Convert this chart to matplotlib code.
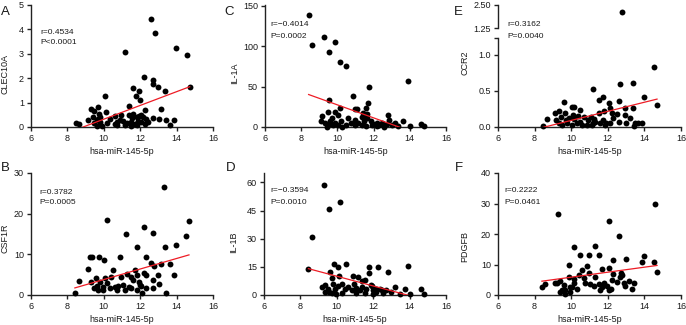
import numpy as np
import matplotlib
matplotlib.use("Agg")
import matplotlib.pyplot as plt

plt.rcParams['font.family'] = ['Liberation Sans', 'DejaVu Sans']

# ---------------- data ----------------
xlabel = "hsa-miR-145-5p"

# Panel A: CLEC10A
a_x = [8.45, 8.63, 12.62, 12.84, 11.19, 13.99, 14.57, 14.72, 12.22, 12.71, 12.71, 12.98, 13.39, 11.58,
       11.94, 11.76, 11.98, 10.06, 11.39, 13.17, 12.29, 12.05, 9.66, 9.27, 9.47, 10.11, 9.80, 9.13, 9.60,
       9.69, 10.33, 10.88, 11.39, 11.55, 11.80, 12.34, 12.71, 13.04, 13.44, 13.88, 13.62, 9.46, 9.78,
       10.15, 10.61, 10.74, 11.06, 11.25, 11.52, 11.70, 11.89, 12.07, 12.25, 12.43, 9.60, 9.88, 10.70,
       11.16, 11.52, 11.80, 9.42, 9.75, 10.61, 10.93, 11.60, 11.94, 12.16]
a_y = [0.18, 0.11, 4.41, 3.84, 3.09, 3.24, 2.94, 1.65, 2.04, 1.93, 1.76, 1.63, 1.49, 1.60,
       1.49, 1.27, 1.11, 1.26, 0.86, 0.75, 0.68, 0.49, 0.83, 0.74, 0.66, 0.63, 0.40, 0.29, 0.29,
       0.33, 0.33, 0.29, 0.49, 0.36, 0.42, 0.31, 0.38, 0.31, 0.29, 0.29, 0.08, 0.18, 0.22,
       0.15, 0.12, 0.22, 0.26, 0.15, 0.19, 0.12, 0.26, 0.19, 0.14, 0.22, 0.05, 0.05, 0.08,
       0.08, 0.04, 0.07, 0.40, 0.53, 0.45, 0.49, 0.53, 0.45, 0.41]

# Panel B: CSF1R
b_x = [13.31, 10.15, 14.68, 12.22, 12.71, 11.21, 14.54, 11.81, 13.99, 13.39, 9.22, 9.36, 9.75, 10.02,
       10.88, 12.34, 9.13, 8.63, 8.41, 9.27, 9.56, 9.60, 9.69, 9.78, 9.93, 10.06, 10.15, 10.42, 10.52,
       10.61, 10.79, 10.92, 11.06, 11.25, 11.39, 11.52, 11.61, 11.70, 11.80, 11.94, 12.07, 12.12, 12.22,
       12.34, 12.62, 12.75, 12.71, 12.71, 12.98, 13.04, 13.17, 13.44, 13.62, 13.88, 9.45, 9.97, 10.33,
       10.70, 11.16, 11.52, 11.80, 11.98, 12.34]
b_y = [26.6, 18.4, 18.1, 16.7, 15.2, 14.9, 14.4, 11.9, 12.2, 11.7, 9.3, 9.3, 9.3, 8.5,
       9.3, 9.4, 6.4, 3.4, 0.6, 3.1, 4.1, 2.2, 1.2, 3.2, 2.0, 4.1, 3.0, 4.5, 6.1,
       2.0, 2.2, 4.5, 2.4, 5.1, 2.0, 4.5, 3.6, 6.1, 4.9, 3.2, 2.2, 0.6, 5.3,
       4.9, 7.8, 7.1, 3.6, 1.6, 4.9, 2.7, 7.6, 0.6, 7.6, 4.9, 1.7, 1.2, 1.6,
       1.2, 1.3, 1.6, 1.3, 2.4, 1.6]

# Panel C: IL-1A
c_x = [8.41, 8.62, 9.26, 9.85, 9.55, 10.16, 10.46, 13.88, 11.75, 10.88, 9.55, 10.14, 11.71, 10.98,
       11.11, 11.57, 11.39, 11.66, 12.77, 9.17, 9.50, 9.87, 10.05, 9.10, 9.31, 9.59, 9.68, 9.78, 9.40,
       10.05, 10.20, 10.60, 10.75, 10.46, 10.97, 11.16, 11.34, 11.49, 11.64, 11.86, 11.99, 11.90, 12.17,
       12.30, 12.48, 12.74, 12.87, 13.00, 13.18, 13.37, 13.64, 14.00, 14.60, 14.78, 12.60, 11.60, 10.24,
       9.87, 9.54, 10.97, 12.17, 11.38, 11.58]
c_y = [139, 102, 111, 105, 93, 81, 76, 57, 49, 38, 33, 24, 30, 22,
       22, 24, 17, 16, 15, 14, 18, 19, 15, 8, 5, 7, 11, 2, 0.5,
       2.5, 7, 11, 5, 2, 2.5, 5, 2.5, 8, 11, 7, 4, 2, 5,
       2, 5, 4, 9, 2.5, 5, 1.2, 7.4, 1.6, 3.3, 1.6, 0.4, 1.2, 0.4,
       5.4, 3.7, 8.7, 1.2, 12, 15]

# Panel D: IL-1B
d_x = [9.28, 10.20, 9.58, 8.61, 8.44, 13.93, 12.83, 12.24, 10.48, 9.85, 10.07, 11.76, 11.76, 9.61,
       10.13, 10.90, 11.17, 9.71, 9.80, 11.54, 9.16, 9.34, 9.49, 9.56, 9.89, 10.07, 10.26, 10.44, 10.62,
       10.81, 11.08, 11.27, 11.39, 11.63, 11.87, 12.00, 12.18, 12.37, 12.55, 12.73, 12.97, 13.19, 13.47,
       13.74, 14.02, 14.61, 14.79, 12.00, 11.54, 11.08, 10.26, 9.98, 9.34, 9.71, 10.95, 11.36, 11.91,
       12.18, 12.50]
d_y = [58.5, 49.5, 45.6, 30.9, 13.6, 15.4, 12.0, 14.7, 16.3, 16.3, 14.7, 14.7, 11.5, 12.4,
       10.0, 10.0, 9.7, 9.3, 6.1, 7.9, 4.3, 5.2, 3.4, 1.6, 3.4, 4.7, 6.1, 3.4, 4.3,
       2.9, 3.8, 2.5, 4.3, 3.4, 5.2, 2.5, 1.6, 3.4, 1.1, 2.5, 1.6, 4.3, 0.7,
       3.1, 0.7, 3.4, 0.7, 0.7, 1.1, 1.1, 1.1, 0.7, 1.6, 1.1, 6.1, 7.4, 4.7,
       3.4, 2.9]

# Panel E: CCR2
e_x = [12.78, 14.54, 13.36, 12.68, 11.17, 13.96, 14.69, 11.72, 11.50, 12.59, 9.61, 10.06, 10.17, 10.50,
       9.13, 9.32, 8.66, 8.44, 9.18, 9.45, 9.69, 9.87, 10.09, 10.18, 10.37, 10.50, 10.68, 10.91, 11.09,
       11.18, 11.27, 11.54, 11.72, 11.90, 12.12, 12.23, 12.30, 12.48, 12.63, 12.92, 12.96, 13.00, 13.22,
       13.36, 13.50, 13.65, 13.87, 13.45, 9.32, 9.50, 9.77, 10.04, 10.32, 10.59, 10.86, 11.14, 11.32,
       11.59, 11.86, 12.14, 9.68, 11.77, 12.05]
e_y = [2.14, 0.83, 0.61, 0.59, 0.52, 0.41, 0.30, 0.41, 0.38, 0.36, 0.34, 0.28, 0.27, 0.24,
       0.20, 0.22, 0.11, 0.01, 0.10, 0.14, 0.10, 0.13, 0.17, 0.11, 0.15, 0.07, 0.14, 0.09, 0.14,
       0.05, 0.11, 0.20, 0.10, 0.05, 0.26, 0.19, 0.12, 0.18, 0.07, 0.26, 0.17, 0.06, 0.12,
       0.26, 0.06, 0.06, 0.05, 0.01, 0.06, 0.03, 0.06, 0.03, 0.05, 0.03, 0.03, 0.03, 0.07,
       0.06, 0.03, 0.05, 0.19, 0.22, 0.33]

# Panel F: PDGFB
f_x = [14.60, 9.28, 12.08, 12.59, 11.28, 10.13, 13.96, 10.46, 10.97, 11.50, 13.01, 13.87, 14.54, 12.28,
       9.86, 10.86, 14.69, 12.08, 11.68, 12.72, 8.40, 8.59, 9.13, 9.22, 9.40, 9.59, 9.68, 9.50, 9.86,
       9.95, 10.13, 10.13, 10.41, 10.59, 10.68, 10.77, 10.95, 11.05, 11.23, 11.32, 11.50, 11.59, 11.68,
       11.77, 11.96, 12.05, 12.19, 12.23, 12.27, 12.50, 12.68, 12.78, 12.87, 12.96, 13.14, 13.32, 13.45,
       9.95, 9.68, 9.40, 10.32, 10.04]
f_y = [29.7, 26.6, 24.1, 19.4, 16.1, 15.7, 12.8, 13.0, 13.1, 13.1, 11.9, 10.9, 10.8, 11.5,
       9.7, 9.5, 7.6, 8.7, 8.5, 7.3, 2.7, 3.5, 3.8, 4.0, 4.6, 3.2, 1.5, 1.8, 6.0,
       2.7, 5.4, 3.8, 6.5, 8.2, 5.7, 3.8, 7.1, 3.5, 2.9, 6.0, 3.5, 1.8, 2.7,
       3.8, 2.9, 1.5, 2.1, 4.9, 6.9, 4.3, 6.0, 6.5, 3.8, 2.9, 4.6, 2.1, 4.0,
       1.0, 0.4, 1.0, 2.1, 2.7]

# linear fit parameters (slope, intercept) and statistics
genes = ["CLEC10A", "CSF1R", "IL-1A", "IL-1B", "CCR2", "PDGFB"]
letters = ["A", "B", "C", "D", "E", "F"]
r_text = ["r=0.4534", "r=0.3782", "r=\u22120.4014", "r=\u22120.3594", "r=0.3162", "r=0.2222"]
p_text = ["P<0.0001", "P=0.0005", "P=0.0002", "P=0.0010", "P=0.0040", "P=0.0461"]
fit_slope = [0.282, 1.295, -8.05, -2.59, 0.0628, 0.82]
fit_intercept = [-2.50, -9.15, 107.9, 35.9, -0.537, -2.36]
y_limits = [(0, 5), (0, 30), (0, 151), (0, 65), (0, 1.23), (0, 40)]
y_ticks = [[0, 1, 2, 3, 4, 5], [0, 10, 20, 30], [0, 50, 100, 150], [0, 15, 30, 45, 60],
           [0, 0.5, 1.0], [0, 10, 20, 30, 40]]
e_upper_ticks = [1.25, 2.50]
x_ticks = [6, 8, 10, 12, 14, 16]

xs = [a_x, b_x, c_x, d_x, e_x, f_x]
ys = [a_y, b_y, c_y, d_y, e_y, f_y]

# ---------------- layout (pixels) ----------------
W, H = 686, 325
fig = plt.figure(figsize=(W / 100, H / 100), dpi=100)

def rect(l, t, r, b):
    return [l / W, 1 - b / H, (r - l) / W, (b - t) / H]

def fx(x):
    return x / W

def fy(y):
    return 1 - y / H

# l, t, r, b of each panel axes
boxes = [(31, 5, 213, 127), (31, 173, 213, 295), (265, 5, 446, 127),
         (264, 173, 446, 295), (498, 38, 681, 127), (498, 173, 681, 295)]
letter_pos = [(1, 12), (1, 168), (224, 12), (226, 168), (454, 12), (455, 168)]
ann_pos = [(40, 32, 42), (39, 192, 202), (270, 25, 36), (270, 191, 202), (507, 25, 36), (504, 191, 202)]
ylabel_pos = [(5, 74), (5.5, 238), (234.5, 73), (234, 242), (465, 63), (465, 246)]

FS = 6.5
MS = 18
spine_c = "#222222"
text_c = "#1a1a1a"

def style(ax):
    for s in ["top", "right"]:
        ax.spines[s].set_visible(False)
    for s in ["left", "bottom"]:
        ax.spines[s].set_linewidth(1.0)
        ax.spines[s].set_color(spine_c)
    ax.tick_params(direction="out", length=3, width=1.0, color=spine_c,
                   labelsize=FS, labelcolor=text_c, pad=2)

for i in range(6):
    l, t, r, b = boxes[i]
    ax = fig.add_axes(rect(l, t, r, b))
    style(ax)
    x = np.array(xs[i])
    y = np.array(ys[i])
    ylo, yhi = y_limits[i]
    mask = y <= yhi
    ax.scatter(x[mask], y[mask], s=MS, c="black", linewidths=0, clip_on=False, zorder=3)
    xl = np.array([x.min(), x.max()])
    ax.plot(xl, fit_intercept[i] + fit_slope[i] * xl, color="#ee1c25", lw=0.9, zorder=4)
    ax.set_xlim(6, 16)
    ax.set_ylim(ylo, yhi)
    ax.set_xticks(x_ticks)
    if i == 4:
        ax.set_yticks(y_ticks[i] + [yhi])
        ax.set_yticklabels(["0.0", "0.5", "1.0", ""])
    else:
        ax.set_yticks(y_ticks[i])
    ax.set_xlabel(xlabel, fontsize=FS, color=text_c)
    ax.xaxis.set_label_coords(fx((l + r) / 2), fy(b + 24), transform=fig.transFigure)
    ax.xaxis.label.set_va("center")
    ax.set_ylabel(genes[i], fontsize=FS, color=text_c)
    ax.yaxis.set_label_coords(fx(ylabel_pos[i][0]), fy(ylabel_pos[i][1]), transform=fig.transFigure)
    ax.yaxis.label.set_va("center")

    if i == 4:
        # upper segment of broken axis
        axu = fig.add_axes(rect(l, 5, r, 28))
        style(axu)
        axu.spines["bottom"].set_visible(False)
        axu.tick_params(axis="x", bottom=False, labelbottom=False)
        axu.patch.set_alpha(0)
        up = y >= e_upper_ticks[0]
        axu.scatter(x[up], y[up], s=MS, c="black", linewidths=0, clip_on=False, zorder=3)
        axu.set_xlim(6, 16)
        axu.set_ylim(e_upper_ticks[0], e_upper_ticks[-1])
        axu.set_yticks(e_upper_ticks)
        axu.set_yticklabels(["1.25", "2.50"])

    fig.text(fx(letter_pos[i][0]), fy(letter_pos[i][1]), letters[i], fontsize=9.5,
             color=text_c, ha="left", va="center")
    ax_, y1, y2 = ann_pos[i]
    fig.text(fx(ax_), fy(y1), r_text[i], fontsize=6, color=text_c, ha="left", va="center")
    fig.text(fx(ax_), fy(y2), p_text[i], fontsize=6, color=text_c, ha="left", va="center")

fig.savefig("out.png", dpi=100)
